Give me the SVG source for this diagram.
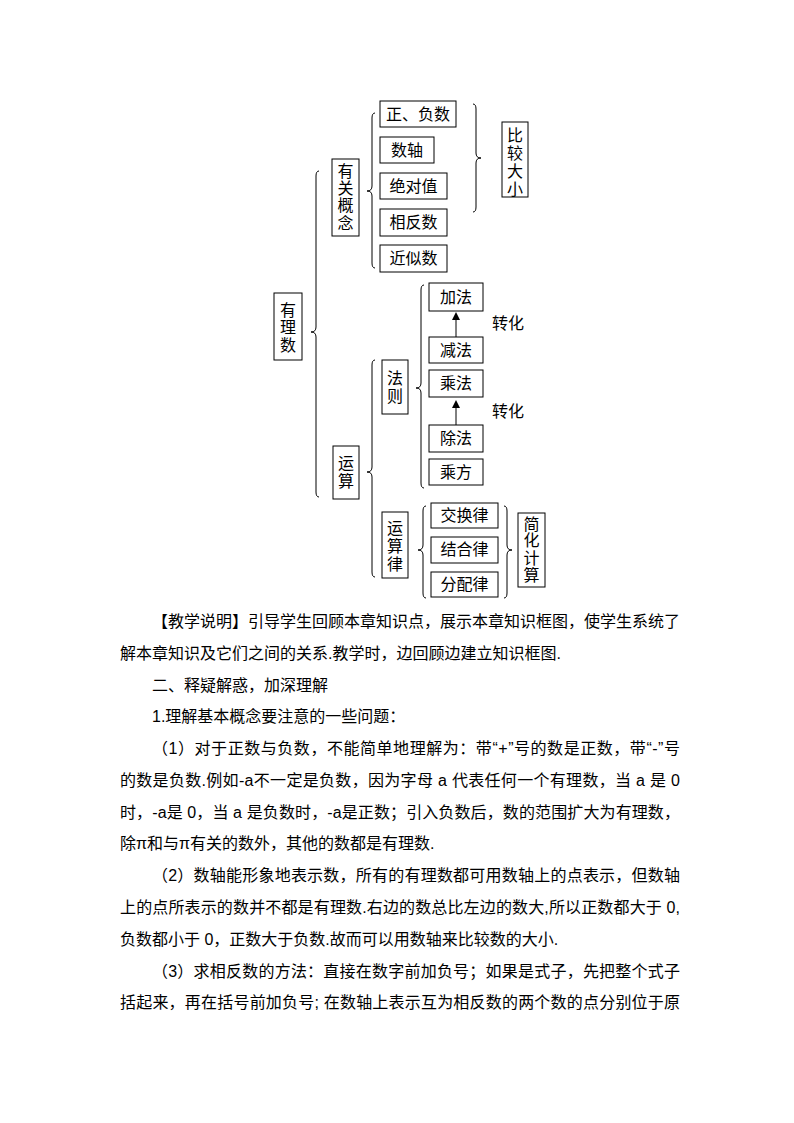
<svg xmlns="http://www.w3.org/2000/svg" width="794" height="1123" viewBox="0 0 794 1123">
<defs>
<style>
.box{fill:#fff;stroke:#000;stroke-width:1}
.t{font-family:"Liberation Serif","Noto Sans CJK SC",serif;font-size:16px;fill:#000}
.c{text-anchor:middle}
.br{fill:none;stroke:#000;stroke-width:1}
.ar{stroke:#000;stroke-width:1}
.p{font-family:"Liberation Sans","Noto Sans CJK SC",sans-serif;font-size:16px;fill:#000}
</style>
</defs>
<rect width="794" height="1123" fill="#fff"/>
<g id="connectors">
<path class="br" d="M319 171 Q316 171 316 176 L316 327 Q316 332 311 332 Q316 332 316 337 L316 492 Q316 497 319 497"/>
<path class="br" d="M375 113 Q372 113 372 118 L372 186 Q372 191 367 191 Q372 191 372 196 L372 263 Q372 268 375 268"/>
<path class="br" d="M473 104 Q476 104 476 109 L476 153 Q476 158 481 158 Q476 158 476 163 L476 207 Q476 212 473 212"/>
<path class="br" d="M375 360 Q372 360 372 365 L372 467 Q372 472 367 472 Q372 472 372 477 L372 572 Q372 577 375 577"/>
<path class="br" d="M424 285 Q421 285 421 290 L421 383 Q421 388 416 388 Q421 388 421 393 L421 483 Q421 488 424 488"/>
<path class="br" d="M426 506 Q423 506 423 511 L423 545 Q423 550 418 550 Q423 550 423 555 L423 593 Q423 598 426 598"/>
<path class="br" d="M504 506 Q507 506 507 511 L507 545 Q507 550 512 550 Q507 550 507 555 L507 593 Q507 598 504 598"/>
<line class="ar" x1="456" y1="337" x2="456" y2="318"/>
<polygon points="456,312 452,320 460,320" fill="#000"/>
<line class="ar" x1="456" y1="425" x2="456" y2="406"/>
<polygon points="456,400 452,408 460,408" fill="#000"/>
</g>
<g id="n_youlishu"><rect class="box" x="274" y="293" width="28" height="67"/>
<text class="t c" x="288" y="316">有</text><text class="t c" x="288" y="333">理</text><text class="t c" x="288" y="351">数</text></g>
<g id="n_youguan"><rect class="box" x="332" y="159" width="27" height="77"/>
<text class="t c" x="345.5" y="177">有</text><text class="t c" x="345.5" y="194">关</text><text class="t c" x="345.5" y="211">概</text><text class="t c" x="345.5" y="229">念</text></g>
<g id="n_zhengfu"><rect class="box" x="380" y="101" width="76" height="26"/><text class="t c" x="418" y="120">正、负数</text></g>
<g id="n_shuzhou"><rect class="box" x="380" y="137" width="54" height="26"/><text class="t c" x="407" y="156">数轴</text></g>
<g id="n_juedui"><rect class="box" x="380" y="173" width="67" height="26"/><text class="t c" x="413.5" y="192">绝对值</text></g>
<g id="n_xiangfan"><rect class="box" x="380" y="209" width="67" height="27"/><text class="t c" x="413.5" y="228">相反数</text></g>
<g id="n_jinsi"><rect class="box" x="380" y="245" width="67" height="27"/><text class="t c" x="413.5" y="264">近似数</text></g>
<g id="n_bijiao"><rect class="box" x="502" y="122" width="26" height="75"/>
<text class="t c" x="515" y="141">比</text><text class="t c" x="515" y="159">较</text><text class="t c" x="515" y="177">大</text><text class="t c" x="515" y="195">小</text></g>
<g id="n_yunsuan"><rect class="box" x="333" y="446" width="26" height="53"/>
<text class="t c" x="346" y="469">运</text><text class="t c" x="346" y="487">算</text></g>
<g id="n_faze"><rect class="box" x="382" y="360" width="26" height="54"/>
<text class="t c" x="395" y="383.5">法</text><text class="t c" x="395" y="401.5">则</text></g>
<g id="n_jiafa"><rect class="box" x="429" y="283" width="54" height="28"/><text class="t c" x="456" y="303">加法</text></g>
<g id="n_jianfa"><rect class="box" x="429" y="337" width="54" height="26"/><text class="t c" x="456" y="356">减法</text></g>
<g id="n_chengfa"><rect class="box" x="429" y="370" width="54" height="27"/><text class="t c" x="456" y="389">乘法</text></g>
<g id="n_chufa"><rect class="box" x="429" y="425" width="54" height="27"/><text class="t c" x="456" y="444">除法</text></g>
<g id="n_chengfang"><rect class="box" x="429" y="459" width="54" height="26"/><text class="t c" x="456" y="478">乘方</text></g>
<g id="n_zhuanhua1"><text class="t" x="492" y="329">转化</text></g>
<g id="n_zhuanhua2"><text class="t" x="492" y="417">转化</text></g>
<g id="n_yunsuanlv"><rect class="box" x="382" y="512" width="26" height="66"/>
<text class="t c" x="395" y="534">运</text><text class="t c" x="395" y="552">算</text><text class="t c" x="395" y="569.5">律</text></g>
<g id="n_jiaohuan"><rect class="box" x="431" y="503" width="67" height="25"/><text class="t c" x="464.5" y="521">交换律</text></g>
<g id="n_jiehe"><rect class="box" x="431" y="537" width="67" height="26"/><text class="t c" x="464.5" y="555">结合律</text></g>
<g id="n_fenpei"><rect class="box" x="431" y="572" width="67" height="25"/><text class="t c" x="464.5" y="590">分配律</text></g>
<g id="n_jianhua"><rect class="box" x="518" y="513" width="27" height="74"/>
<text class="t c" x="531.5" y="529.5">简</text><text class="t c" x="531.5" y="546">化</text><text class="t c" x="531.5" y="564">计</text><text class="t c" x="531.5" y="581">算</text></g>
<g id="body">
<text class="p" x="152" y="627" textLength="528" lengthAdjust="spacing">【教学说明】引导学生回顾本章知识点，展示本章知识框图，使学生系统了</text>
<text class="p" x="120" y="659">解本章知识及它们之间的关系.教学时，边回顾边建立知识框图.</text>
<text class="p" x="152" y="691">二、释疑解惑，加深理解</text>
<text class="p" x="152" y="722">1.理解基本概念要注意的一些问题：</text>
<text class="p" x="152" y="754" textLength="528" lengthAdjust="spacing">（1）对于正数与负数，不能简单地理解为：带“+”号的数是正数，带“-”号</text>
<text class="p" x="120" y="786" textLength="560" lengthAdjust="spacing">的数是负数.例如-a不一定是负数，因为字母 a 代表任何一个有理数，当 a 是 0</text>
<text class="p" x="120" y="818" textLength="560" lengthAdjust="spacing">时，-a是 0，当 a 是负数时，-a是正数；引入负数后，数的范围扩大为有理数，</text>
<text class="p" x="120" y="849">除π和与π有关的数外，其他的数都是有理数.</text>
<text class="p" x="152" y="881" textLength="528" lengthAdjust="spacing">（2）数轴能形象地表示数，所有的有理数都可用数轴上的点表示，但数轴</text>
<text class="p" x="120" y="913" textLength="560" lengthAdjust="spacing">上的点所表示的数并不都是有理数.右边的数总比左边的数大,所以正数都大于 0,</text>
<text class="p" x="120" y="945">负数都小于 0，正数大于负数.故而可以用数轴来比较数的大小.</text>
<text class="p" x="152" y="977" textLength="528" lengthAdjust="spacing">（3）求相反数的方法：直接在数字前加负号；如果是式子，先把整个式子</text>
<text class="p" x="120" y="1008" textLength="560" lengthAdjust="spacing">括起来，再在括号前加负号; 在数轴上表示互为相反数的两个数的点分别位于原</text>
</g>
</svg>
